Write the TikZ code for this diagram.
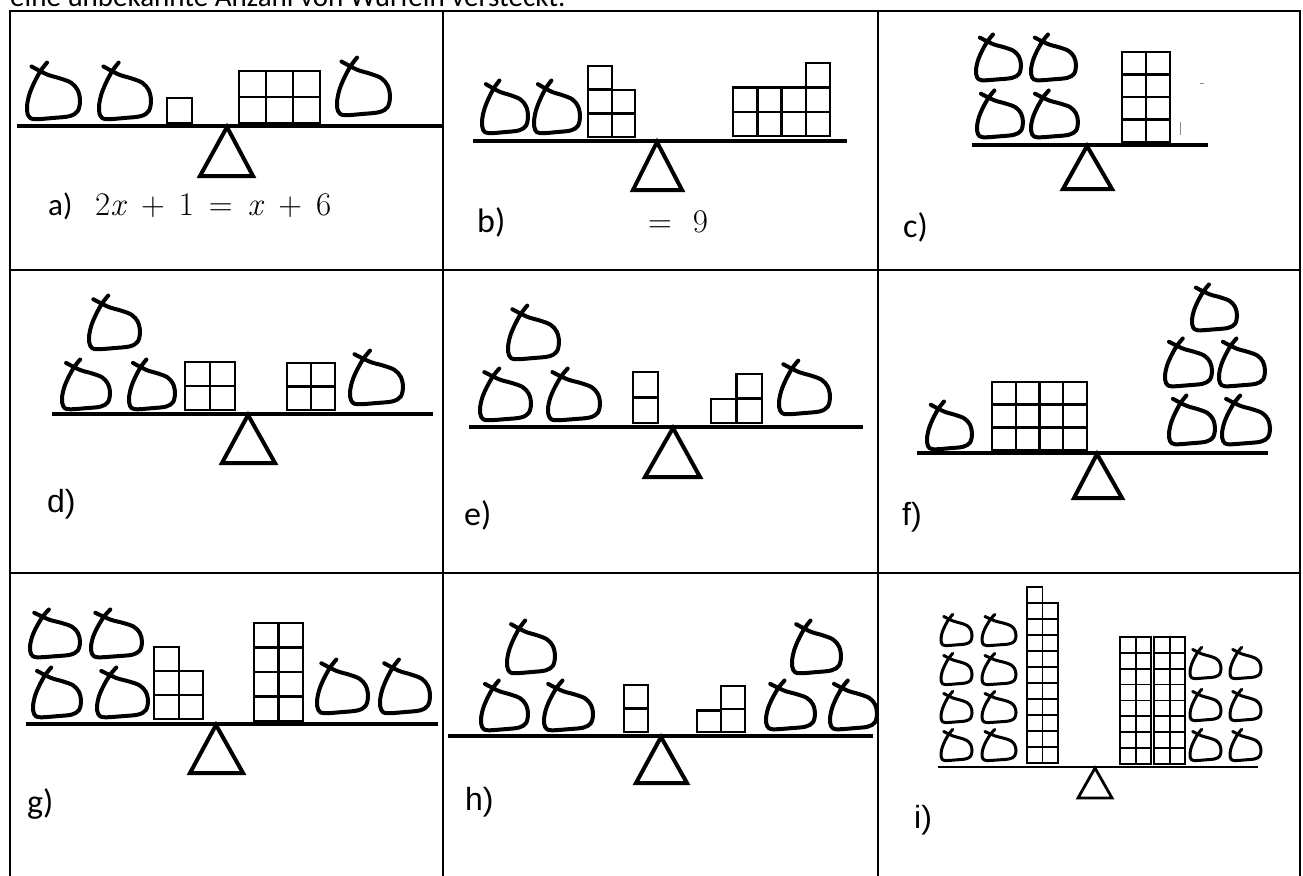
\documentclass[tikz,border=0pt]{standalone}
\usepackage{fontspec}
\newfontfamily\calfont{Carlito}
\newfontfamily\arialfont{Liberation Sans}

% bag: [extra style]{left}{bottom}{width}{height}, outer extents of the stroke
\newcommand\drawbag[5][]{%
  \pgfmathsetmacro\bagw{#4-4}\pgfmathsetmacro\bagh{#5-4}%
  \begin{scope}[shift={(#2+2,#3-2)}, x=\bagw pt, y=\bagh pt]
    \draw[bagline,#1] plot[smooth, tension=0.55] coordinates {
      (0.085,0.923) (0.378,0.785) (0.622,0.718) (0.835,0.641) (0.957,0.513)
      (1.0,0.333) (0.957,0.154) (0.805,0.067) (0.5,0.036) (0.134,0.015)
      (0.024,0.077) (0.0,0.231) (0.043,0.436) (0.134,0.641) (0.256,0.846)
      (0.378,0.99)};
  \end{scope}}

% column of cubes: [extra style]{left}{bottom}{width}{height}{count}
\newcommand\cubecol[6][]{%
  \foreach \k in {1,...,#6}{%
    \draw[cube,#1] (#2,{#3-(\k-1)*#5}) rectangle ++(#4,-#5);}}

% balance: {beam left}{beam right}{beam y}{apex x}{base left}{base right}{base y}
\newcommand\drawbalance[8][]{%
  \draw[beam,#1] (#2,#4) -- (#3,#4);
  \draw[fulcrum,#1] (#5,#4+1) -- (#6,#8) -- (#7,#8) -- cycle;}

\begin{document}
\begin{tikzpicture}[x=1pt,y=-1pt,
  gridline/.style={line width=2pt},
  beam/.style={line width=3.5pt},
  fulcrum/.style={line width=4pt},
  bagline/.style={line width=4pt, line cap=round, line join=round},
  cube/.style={line width=2.4pt},
  small/.style={line width=1.8pt},
  lab/.style={anchor=base west, inner sep=0pt, font=\fontsize{34}{36}\selectfont\calfont},
  alab/.style={lab, font=\fontsize{32}{34}\selectfont\arialfont},
  mathlab/.style={anchor=base west, inner sep=0pt, font=\fontsize{33}{35}\selectfont},
  speck/.style={line width=1pt, black!45},
]
\useasboundingbox (0,0) rectangle (1303,875);

% heading line, cut at the top edge
\node[anchor=base west, inner sep=0pt, font=\fontsize{29}{31}\selectfont\calfont] (head) at (10,7)
  {eine unbekannte Anzahl von Würfeln versteckt.};

% table
\draw[gridline] (10,11) rectangle (1300,877);
\draw[gridline] (443,11) -- (443,877) (878,11) -- (878,877);
\draw[gridline] (10,270) -- (1300,270) (10,573) -- (1300,573);

% ---- a)
\drawbalance{17}{442}{126}{227}{200}{253}{176}
\drawbag{25}{122}{57}{62}
\drawbag{97}{122}{56}{62}
\drawbag{335}{118}{57}{63}
\cubecol{167}{123}{25}{25}{1}
\foreach \c in {0,1,2}{\cubecol{239+27*\c}{123}{27}{26}{2}}
\node[lab, font=\fontsize{31}{33}\selectfont\calfont] (la) at (48,215) {a)};
\node[mathlab] (ma) at (95,215)
  {2\textit{x}\hspace{14pt}+\hspace{14pt}1\hspace{15pt}=\hspace{15pt}\textit{x}\hspace{14pt}+\hspace{14pt}6};

% ---- b)
\drawbalance{473}{847}{141}{657}{633}{682}{190}
\drawbag{480}{136}{50}{58}
\drawbag{532}{136}{50}{58}
\cubecol{588}{137}{24}{23.7}{3}
\cubecol{612}{137}{23}{23.5}{2}
\foreach \c in {0,1,2}{\cubecol{733+24.3*\c}{136}{24.3}{24.3}{2}}
\cubecol{805.9}{136}{24.3}{24.3}{3}
\node[lab] (lb) at (477,232) {b)};
\node[mathlab] (mb) at (648,232) {=\hspace{21pt}9};

% ---- c)
\drawbalance{972}{1208}{145}{1087}{1063}{1112}{189}
\drawbag{975}{140}{50}{52}
\drawbag{1029}{140}{51}{52}
\drawbag{974}{83}{49}{51}
\drawbag{1029}{83}{49}{51}
\cubecol{1122}{142}{24}{22.5}{4}
\cubecol{1146}{142}{24}{22.5}{4}
\draw[speck] (1200,83) -- (1204,83);
\draw[speck] (1180,122) -- (1180,135);
\node[lab] (lc) at (903,237) {c)};

% ---- d)
\drawbalance{52}{433}{414}{248}{222}{275}{463}
\drawbag{87}{352}{55}{59}
\drawbag{60}{412}{52}{55}
\drawbag{127}{412}{50}{55}
\drawbag{348}{407}{57}{59}
\cubecol{185}{410}{25}{24}{2}
\cubecol{210}{410}{25}{24}{2}
\cubecol{287}{410}{24}{23.5}{2}
\cubecol{311}{410}{24}{23.5}{2}
\node[alab] (ld) at (47,512) {d)};

% ---- e)
\drawbalance{469}{863}{427}{673}{645}{700}{477}
\drawbag{506}{362}{55}{59}
\drawbag{478}{423}{55}{57}
\drawbag{546}{423}{56}{57}
\drawbag{777}{417}{55}{59}
\cubecol{633}{423}{25}{25.5}{2}
\cubecol{711}{423}{25.5}{24}{1}
\cubecol{736.5}{423}{25.5}{24.5}{2}
\node[lab] (le) at (464,525) {e)};

% ---- f)
\drawbalance{917}{1268}{453}{1097}{1074}{1122}{498}
\drawbag{925}{452}{49}{53}
\foreach \c in {0,1,2,3}{\cubecol{992+23.75*\c}{450}{23.75}{22.7}{3}}
\drawbag{1190}{333}{49}{51}
\drawbag{1163}{389}{51}{53}
\drawbag{1217}{389}{50}{53}
\drawbag{1167}{447}{50}{54}
\drawbag{1220}{447}{52}{54}
\node[alab] (lf) at (902,525) {f)};

% ---- g)
\drawbalance{26}{438}{724}{216}{190}{243}{773}
\drawbag{28}{660}{54}{53}
\drawbag{89}{660}{55}{53}
\drawbag{31}{720}{52}{55}
\drawbag{95}{720}{55}{55}
\drawbag{315}{716}{55}{59}
\drawbag{378}{716}{54}{59}
\cubecol{154}{719}{25}{24}{3}
\cubecol{179}{719}{24}{24}{2}
\cubecol{254}{721}{24.5}{24.5}{4}
\cubecol{278.5}{721}{24.5}{24.5}{4}
\node[lab] (lg) at (27,813) {g)};

% ---- h)
\drawbalance{448}{873}{736}{661}{636}{687}{783}
\drawbag{505}{676}{52}{58}
\drawbag{479}{733}{51}{55}
\drawbag{542}{733}{53}{55}
\drawbag{790}{676}{53}{58}
\drawbag{764}{732}{53}{54}
\drawbag{828}{732}{51}{54}
\cubecol{624}{732}{24}{23.5}{2}
\cubecol{697}{732}{24}{21.5}{1}
\cubecol{721}{732}{24}{23}{2}
\node[alab] (lh) at (465,810) {h)};

% ---- i)
\drawbalance[line width=2.8pt]{938}{1258}{767}{1095}{1078}{1112}{798}
\foreach \b in {648,687,725,763}{%
  \drawbag[line width=3pt]{939}{\b}{35}{36}
  \drawbag[line width=3pt]{980}{\b}{38}{36}}
\foreach \b in {681,723,763}{%
  \drawbag[line width=3pt]{1188}{\b}{35}{36}
  \drawbag[line width=3pt]{1228}{\b}{35}{36}}
\cubecol[small]{1027}{763}{15.5}{16}{11}
\cubecol[small]{1042.5}{763}{15.5}{16}{10}
\foreach \x in {1120,1135.6,1154,1169.6}{\cubecol[small]{\x}{764}{15.6}{15.9}{8}}
\node[alab] (li) at (914,828) {i)};
\end{tikzpicture}
\end{document}
